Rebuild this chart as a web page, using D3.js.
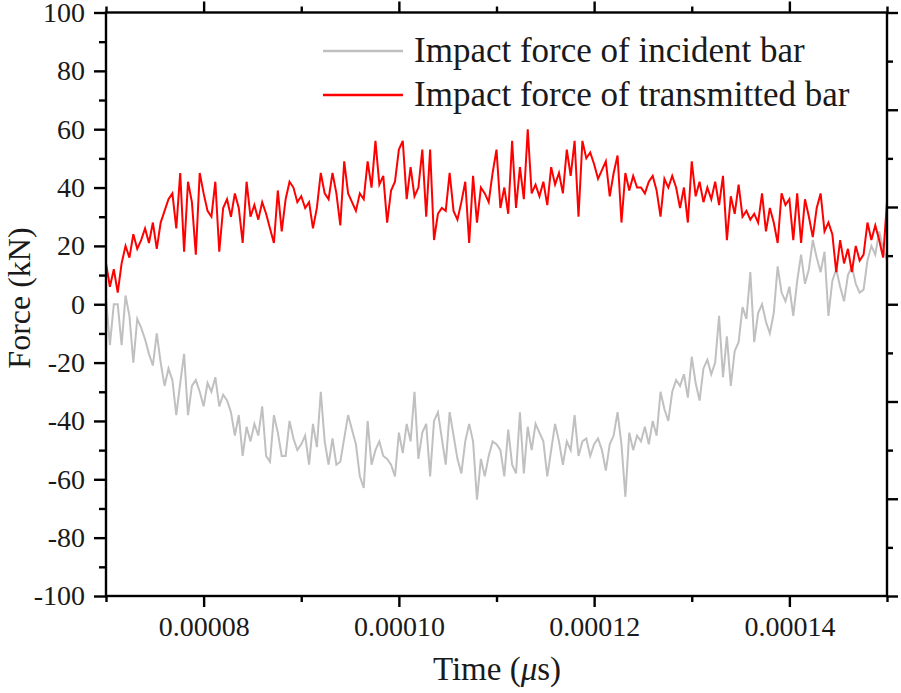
<!DOCTYPE html>
<html>
<head>
<meta charset="utf-8">
<script src="https://cdn.jsdelivr.net/npm/d3@7"></script>
<style>
  body { margin: 0; background: #fff; }
  svg { display: block; }
  svg text { font-family: "Liberation Serif", "Times New Roman", serif; }
</style>
</head>
<body>
<svg id="chart" width="901" height="693"></svg>
<script>
// sample times (s), one sample every 0.4e-6 s from 7e-5 to 1.5e-4
const tStart = 0.00007;
const tStep = 0.0000004;

// impact force of incident bar (kN)
const incident = [
  2, -14, 0, 0, -14, 3, -4, -20, -5, -8,
  -12, -17, -21, -10, -20, -28, -22, -26, -38, -27,
  -17, -38, -28, -26, -30, -35, -27, -30, -25, -35,
  -31, -33, -37, -45, -38, -52, -42, -47, -41, -45,
  -35, -52, -54, -38, -44, -52, -52, -40, -46, -50,
  -48, -45, -55, -41, -49, -30, -47, -55, -46, -55,
  -54, -46, -38, -43, -48, -59, -63, -40, -55, -50,
  -47, -52, -53, -55, -59, -44, -51, -41, -47, -30,
  -53, -44, -41, -59, -40, -37, -46, -55, -37, -45,
  -53, -58, -47, -41, -47, -67, -53, -59, -52, -47,
  -48, -50, -59, -43, -55, -58, -37, -58, -42, -50,
  -41, -44, -47, -59, -50, -41, -47, -55, -47, -50,
  -38, -52, -47, -46, -52, -48, -46, -50, -57, -48,
  -45, -37, -48, -66, -44, -50, -45, -47, -42, -48,
  -40, -45, -30, -36, -40, -30, -26, -28, -24, -32,
  -18, -27, -33, -22, -19, -24, -20, -4, -25, -11,
  -28, -16, -13, -1, -5, 11, -13, -3, 0, -6,
  -10, -3, 13, 4, 1, 6, -4, 8, 17, 7,
  12, 22, 16, 11, 18, -4, 8, 12, 6, 1,
  10, 13, 7, 4, 5, 15, 20, 17, 25, 19,
  15
];

// impact force of transmitted bar (kN)
const transmitted = [
  14, 6, 12, 4, 14, 20, 16, 24, 19, 22,
  26, 21, 28, 19, 28, 32, 36, 38, 26, 45,
  18, 42, 35, 17, 45, 38, 32, 30, 42, 18,
  33, 36, 30, 38, 33, 21, 42, 30, 34, 29,
  35, 31, 26, 21, 39, 25, 36, 42, 40, 35,
  37, 33, 35, 26, 33, 45, 38, 36, 45, 38,
  27, 49, 38, 35, 32, 38, 36, 49, 40, 56,
  41, 44, 28, 39, 42, 53, 56, 36, 47, 37,
  40, 53, 30, 53, 22, 31, 33, 32, 45, 32,
  29, 35, 42, 21, 44, 28, 40, 38, 35, 45,
  53, 33, 40, 31, 56, 33, 47, 36, 60, 38,
  41, 37, 42, 34, 47, 41, 45, 38, 53, 44,
  56, 30, 56, 50, 52, 48, 43, 46, 49, 37,
  45, 51, 28, 45, 39, 44, 40, 40, 38, 42,
  44, 39, 30, 43, 40, 44, 40, 33, 40, 28,
  49, 37, 42, 35, 40, 36, 42, 34, 44, 22,
  37, 31, 41, 30, 32, 29, 31, 28, 38, 25,
  33, 28, 21, 38, 34, 36, 22, 38, 21, 36,
  30, 23, 33, 38, 25, 28, 24, 11, 22, 14,
  19, 11, 20, 15, 17, 28, 22, 27, 22, 16,
  35
];

const xTicks = [0.00008, 0.00010, 0.00012, 0.00014];
const xMinorTicks = [0.00007, 0.00009, 0.00011, 0.00013, 0.00015];
const yTicks = [-100, -80, -60, -40, -20, 0, 20, 40, 60, 80, 100];
const yMinorTicks = [-90, -70, -50, -30, -10, 10, 30, 50, 70, 90];

const seriesNames = ["Impact force of incident bar", "Impact force of transmitted bar"];
const seriesColors = ["#c0c0c0", "#ff0000"];

const serif = '"Liberation Serif", "Times New Roman", serif';
const svg = d3.select("#chart");
const plotLeft = 106, plotRight = 887, plotTop = 12.5, plotBottom = 596;

const x = d3.scaleLinear().domain([0.00007, 0.00015]).range([plotLeft, plotRight]);
const y = d3.scaleLinear().domain([-100, 100]).range([plotBottom, plotTop]);

const toPoints = arr => arr.map((v, i) => [tStart + i * tStep, v]);
const line = d3.line().x(d => x(d[0])).y(d => y(d[1]));

// data lines, incident first so transmitted sits on top
[incident, transmitted].forEach((arr, k) => {
    svg.append("path")
        .datum(toPoints(arr))
        .attr("d", line)
        .attr("fill", "none")
        .attr("stroke", seriesColors[k])
        .attr("stroke-width", 2)
        .attr("stroke-linejoin", "miter");
});

const fmt = d3.format(".5f");
const axStyle = g => {
    g.attr("font-family", serif);
    g.select(".domain").remove();
    g.selectAll("line").attr("stroke", "#000").attr("stroke-width", 2.4);
    g.selectAll("text")
        .attr("fill", "#1a1a1a")
        .style("font-family", serif)
        .style("font-size", "28px");
};

// bottom axis
svg.append("g")
    .attr("transform", `translate(0,${plotBottom})`)
    .call(d3.axisBottom(x).tickValues(xTicks).tickFormat(fmt).tickSize(11).tickPadding(9))
    .call(axStyle);
svg.append("g")
    .attr("transform", `translate(0,${plotBottom})`)
    .call(d3.axisBottom(x).tickValues(xMinorTicks).tickFormat("").tickSize(6))
    .call(axStyle);

// top axis, ticks only
svg.append("g")
    .attr("transform", `translate(0,${plotTop})`)
    .call(d3.axisTop(x).tickValues(xTicks).tickFormat("").tickSize(11))
    .call(axStyle);
svg.append("g")
    .attr("transform", `translate(0,${plotTop})`)
    .call(d3.axisTop(x).tickValues(xMinorTicks).tickFormat("").tickSize(6))
    .call(axStyle);

// left axis, plain hyphen for negatives like the original
svg.append("g")
    .attr("transform", `translate(${plotLeft},0)`)
    .call(d3.axisLeft(y).tickValues(yTicks).tickFormat(d => String(d)).tickSize(12).tickPadding(9))
    .call(axStyle);
svg.append("g")
    .attr("transform", `translate(${plotLeft},0)`)
    .call(d3.axisLeft(y).tickValues(yMinorTicks).tickFormat("").tickSize(7))
    .call(axStyle);

// right axis has its own spacing in the original (12 intervals)
const yRight = d3.scaleLinear().domain([0, 12]).range([plotTop, plotBottom]);
svg.append("g")
    .attr("transform", `translate(${plotRight},0)`)
    .call(d3.axisRight(yRight).tickValues([0, 2, 4, 6, 8, 10, 12]).tickFormat("").tickSize(11))
    .call(axStyle);
svg.append("g")
    .attr("transform", `translate(${plotRight},0)`)
    .call(d3.axisRight(yRight).tickValues([1, 3, 5, 7, 9, 11]).tickFormat("").tickSize(6))
    .call(axStyle);

// frame
svg.append("rect")
    .attr("x", plotLeft).attr("y", plotTop)
    .attr("width", plotRight - plotLeft).attr("height", plotBottom - plotTop)
    .attr("fill", "none").attr("stroke", "#000").attr("stroke-width", 2.4);

// axis titles
svg.append("text")
    .attr("x", 497).attr("y", 680)
    .attr("text-anchor", "middle")
    .style("font-size", "33px").attr("fill", "#1a1a1a")
    .html('Time (<tspan font-style="italic">μ</tspan>s)');

svg.append("text")
    .attr("transform", "translate(30,298) rotate(-90)")
    .attr("text-anchor", "middle")
    .style("font-size", "32px").attr("fill", "#1a1a1a")
    .text("Force (kN)");

// legend
const legend = svg.append("g");
seriesNames.forEach((name, k) => {
    const ly = 51 + k * 44;
    legend.append("line")
        .attr("x1", 323).attr("x2", 403)
        .attr("y1", ly).attr("y2", ly)
        .attr("stroke", seriesColors[k]).attr("stroke-width", 2.5);
    legend.append("text")
        .attr("x", 414).attr("y", ly + 11)
        .style("font-size", "35px").attr("fill", "#1a1a1a")
        .text(name);
});
</script>
</body>
</html>
